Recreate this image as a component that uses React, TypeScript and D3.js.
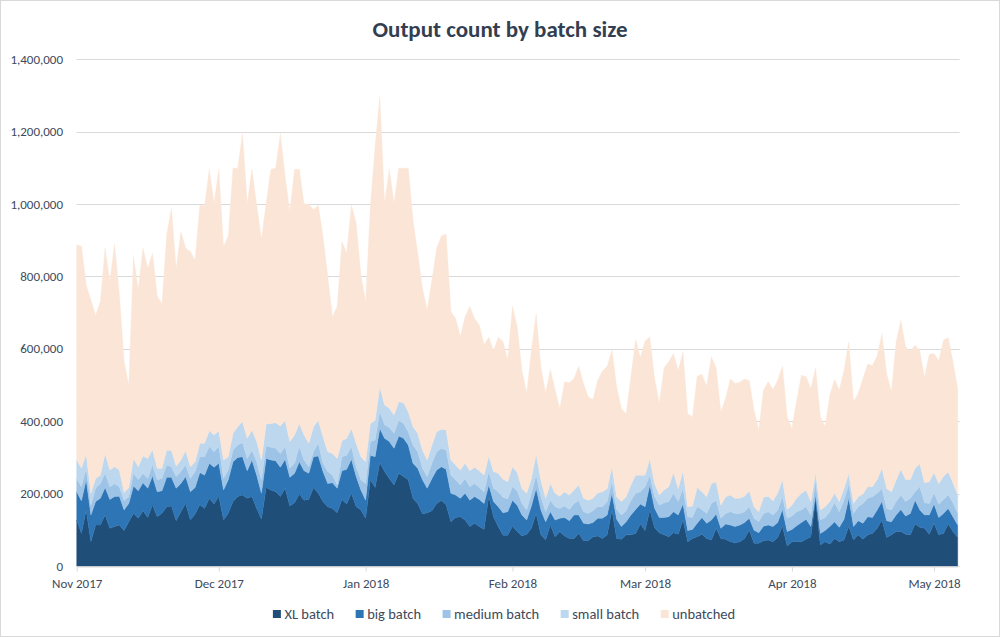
import React, { useRef, useEffect } from 'react';
import * as d3 from 'd3';

// daily values, in thousands of outputs, from 1 Nov 2017
const startDate = new Date(2017, 10, 1);

const xlBatch = [
  127, 90, 155, 67, 113, 113, 141, 104, 109, 113, 98, 122, 146, 132, 153, 134, 169, 136, 146, 164,
  166, 125, 150, 173, 127, 144, 169, 159, 187, 171, 193, 127, 146, 178, 192, 196, 187, 192, 159, 129,
  217, 210, 205, 192, 215, 166, 175, 199, 182, 184, 217, 201, 178, 164, 159, 147, 184, 171, 201, 164,
  155, 132, 238, 217, 286, 261, 242, 224, 256, 247, 238, 187, 173, 144, 147, 153, 173, 181, 169, 122,
  134, 136, 127, 109, 118, 109, 101, 192, 136, 109, 85, 85, 110, 95, 83, 88, 104, 145, 86, 72,
  113, 81, 95, 83, 76, 76, 90, 70, 70, 81, 83, 76, 86, 155, 76, 74, 86, 86, 90, 116,
  98, 155, 106, 92, 86, 81, 92, 88, 127, 67, 76, 81, 88, 76, 72, 104, 76, 74, 67, 64,
  67, 76, 99, 63, 63, 70, 72, 67, 79, 110, 55, 67, 68, 67, 74, 81, 185, 58, 67, 61,
  76, 67, 72, 109, 72, 86, 74, 86, 90, 104, 127, 79, 86, 95, 95, 88, 86, 116, 107, 104,
  88, 118, 86, 90, 116, 95, 79,
];
const bigBatch = [
  78, 90, 83, 74, 65, 74, 76, 80, 83, 80, 57, 51, 75, 76, 77, 81, 80, 69, 62, 81,
  79, 90, 78, 74, 78, 73, 89, 92, 97, 102, 91, 83, 92, 110, 108, 106, 76, 101, 92, 72,
  80, 83, 86, 81, 80, 79, 81, 89, 81, 72, 85, 103, 83, 64, 71, 68, 79, 96, 94, 83,
  55, 50, 68, 85, 94, 92, 102, 101, 103, 106, 96, 97, 97, 94, 68, 89, 92, 93, 98, 79,
  62, 51, 74, 73, 74, 75, 72, 32, 42, 55, 62, 65, 72, 73, 58, 39, 62, 69, 69, 50,
  37, 46, 37, 51, 49, 65, 51, 48, 46, 39, 49, 56, 55, 46, 53, 35, 36, 55, 66, 55,
  66, 69, 54, 42, 48, 55, 58, 53, 44, 31, 25, 37, 46, 42, 55, 40, 28, 42, 46, 45,
  46, 44, 33, 36, 29, 40, 41, 42, 41, 46, 40, 34, 43, 53, 55, 28, 11, 32, 31, 48,
  46, 40, 57, 78, 37, 39, 44, 50, 44, 51, 51, 46, 36, 46, 61, 50, 59, 66, 48, 37,
  53, 53, 48, 55, 43, 41, 34,
];
const mediumBatch = [
  37, 39, 32, 27, 37, 41, 39, 35, 35, 26, 25, 19, 35, 30, 26, 27, 30, 33, 34, 34,
  29, 32, 33, 32, 37, 44, 44, 51, 46, 43, 46, 32, 27, 32, 34, 39, 34, 27, 37, 37,
  35, 35, 34, 38, 35, 25, 28, 42, 30, 18, 14, 35, 23, 33, 21, 9, 39, 39, 35, 27,
  28, 46, 38, 46, 46, 37, 39, 42, 43, 41, 37, 50, 46, 32, 32, 42, 51, 51, 53, 50,
  42, 37, 41, 37, 36, 33, 32, 37, 37, 41, 43, 35, 37, 40, 32, 28, 35, 37, 36, 28,
  32, 37, 27, 32, 31, 32, 39, 32, 29, 33, 32, 32, 37, 32, 27, 32, 31, 39, 45, 34,
  55, 27, 32, 34, 41, 42, 51, 37, 43, 38, 33, 46, 22, 27, 46, 38, 28, 29, 37, 36,
  32, 30, 32, 33, 30, 35, 37, 32, 35, 35, 37, 37, 39, 35, 35, 32, 37, 37, 36, 41,
  53, 43, 53, 39, 36, 39, 55, 51, 57, 46, 36, 34, 33, 37, 40, 40, 42, 23, 64, 34,
  32, 30, 37, 39, 37, 39, 32,
];
const smallBatch = [
  51, 51, 39, 33, 27, 23, 55, 46, 47, 46, 23, 25, 41, 36, 48, 55, 43, 32, 28, 41,
  45, 29, 32, 40, 32, 27, 37, 37, 44, 46, 44, 51, 37, 47, 51, 58, 56, 56, 56, 55,
  60, 66, 71, 76, 72, 74, 78, 64, 69, 65, 69, 63, 73, 55, 60, 73, 44, 47, 50, 65,
  64, 60, 50, 54, 70, 55, 53, 50, 52, 57, 55, 51, 51, 50, 46, 50, 55, 53, 56, 42,
  41, 41, 42, 44, 45, 46, 46, 43, 46, 51, 50, 48, 55, 50, 41, 46, 41, 58, 46, 37,
  46, 37, 34, 39, 40, 37, 44, 37, 37, 34, 38, 41, 36, 41, 35, 37, 38, 44, 50, 46,
  32, 46, 36, 28, 35, 41, 57, 36, 49, 28, 32, 53, 49, 46, 55, 51, 36, 46, 46, 42,
  42, 43, 44, 32, 28, 45, 43, 39, 47, 48, 24, 30, 38, 46, 46, 37, 25, 28, 30, 28,
  26, 28, 32, 30, 28, 27, 26, 32, 28, 38, 56, 55, 50, 59, 71, 61, 52, 65, 63, 55,
  60, 57, 57, 64, 64, 55, 51,
];
const unbatched = [
  594, 614, 467, 534, 451, 479, 567, 521, 615, 488, 362, 283, 558, 489, 574, 525, 542, 476, 454, 595,
  669, 544, 631, 559, 595, 557, 658, 656, 722, 640, 722, 589, 610, 732, 714, 796, 649, 720, 653, 610,
  610, 702, 703, 808, 674, 635, 734, 702, 638, 661, 599, 595, 553, 484, 378, 420, 550, 511, 617, 608,
  503, 442, 599, 757, 801, 557, 660, 585, 645, 648, 673, 571, 497, 447, 414, 456, 507, 534, 541, 410,
  405, 369, 405, 454, 411, 403, 360, 328, 334, 376, 380, 336, 444, 403, 327, 276, 354, 388, 313, 290,
  315, 285, 242, 304, 310, 308, 328, 317, 285, 273, 311, 334, 338, 322, 304, 257, 229, 299, 375, 325,
  371, 336, 290, 253, 338, 345, 329, 327, 329, 257, 246, 307, 325, 306, 350, 315, 258, 272, 321, 317,
  321, 324, 304, 267, 225, 296, 316, 308, 311, 313, 256, 212, 270, 326, 313, 312, 290, 257, 221, 294,
  314, 308, 327, 363, 281, 286, 319, 339, 335, 341, 372, 318, 276, 382, 412, 366, 355, 340, 312, 291,
  352, 329, 339, 376, 371, 334, 294,
];

const seriesNames = ['XL batch', 'big batch', 'medium batch', 'small batch', 'unbatched'];
const seriesColors = ['#1f4e79', '#2e75b6', '#9dc3e6', '#bdd7ee', '#fbe5d6'];
const yTicks = [0, 200000, 400000, 600000, 800000, 1000000, 1200000, 1400000];

const FONT = "Carlito, Lato, 'Open Sans', sans-serif";
const TEXT_COLOR = '#3d4a5c';

function App() {
  const svgRef = useRef(null);

  useEffect(() => {
    document.body.style.margin = '0';
    const w = 1000;
    const h = 637;
    const svg = d3.select(svgRef.current).attr('width', w).attr('height', h);
    svg.selectAll('*').remove();

    const allSeries = [xlBatch, bigBatch, mediumBatch, smallBatch, unbatched];
    const rows = xlBatch.map((_, i) => {
      const row: any = { date: d3.timeDay.offset(startDate, i) };
      seriesNames.forEach((k, s) => (row[k] = allSeries[s][i] * 1000));
      return row;
    });

    const left = 76.7;
    const right = 957.7;
    const bottom = 566;
    const top = 59.3;

    const xScale = d3
      .scaleTime()
      .domain([rows[0].date, rows[rows.length - 1].date])
      .range([left, right]);
    const yScale = d3.scaleLinear().domain([0, 1400000]).range([bottom, top]);

    // chart border
    svg
      .append('rect')
      .attr('x', 0.5)
      .attr('y', 0.5)
      .attr('width', w - 1)
      .attr('height', h - 1)
      .attr('fill', '#fff')
      .attr('stroke', '#d9d9d9');

    // title
    svg
      .append('text')
      .attr('x', 500)
      .attr('y', 37)
      .attr('text-anchor', 'middle')
      .style('font-family', FONT)
      .style('font-weight', 'bold')
      .style('font-size', '23px')
      .attr('fill', '#333f50')
      .text('Output count by batch size');

    // gridlines + y labels
    const grid = svg.append('g');
    grid
      .selectAll('line')
      .data(yTicks)
      .join('line')
      .attr('x1', left)
      .attr('x2', right + 2)
      .attr('y1', (d) => Math.round(yScale(d)) + 0.5)
      .attr('y2', (d) => Math.round(yScale(d)) + 0.5)
      .attr('stroke', '#d9d9d9');
    grid
      .selectAll('text')
      .data(yTicks)
      .join('text')
      .attr('x', 63)
      .attr('y', (d) => yScale(d))
      .attr('dy', '0.35em')
      .attr('text-anchor', 'end')
      .style('font-family', FONT)
      .style('font-size', '13px')
      .attr('fill', TEXT_COLOR)
      .text((d) => d3.format(',')(d));

    // stacked areas
    const stack = d3.stack().keys(seriesNames);
    const layers = stack(rows);
    const area = d3
      .area()
      .x((d: any) => xScale(d.data.date))
      .y0((d: any) => yScale(d[0]))
      .y1((d: any) => yScale(d[1]));
    svg
      .append('g')
      .selectAll('path')
      .data(layers)
      .join('path')
      .attr('d', (d: any) => area(d))
      .attr('fill', (d, i) => seriesColors[i])
      .attr('stroke', (d, i) => seriesColors[i])
      .attr('stroke-width', 0.4);

    // x axis
    const xAxis = d3
      .axisBottom(xScale)
      .ticks(d3.timeMonth.every(1))
      .tickFormat((d: any) => d3.timeFormat('%b %Y')(d))
      .tickSizeInner(5)
      .tickSizeOuter(0)
      .tickPadding(7);
    const gx = svg.append('g').attr('transform', `translate(0, ${bottom + 0.5})`).call(xAxis);
    gx.select('.domain').attr('stroke', '#d9d9d9');
    gx.selectAll('.tick line').attr('stroke', '#d9d9d9');
    gx.selectAll('.tick text')
      .style('font-family', FONT)
      .style('font-size', '13px')
      .attr('fill', TEXT_COLOR);

    // legend
    const legend = svg.append('g');
    let cx = 0;
    seriesNames.forEach((name, i) => {
      const item = legend.append('g').attr('transform', `translate(${cx}, 0)`);
      item
        .append('rect')
        .attr('x', 0)
        .attr('y', -8.5)
        .attr('width', 8)
        .attr('height', 8)
        .attr('fill', seriesColors[i]);
      const t = item
        .append('text')
        .attr('x', 11.5)
        .attr('y', 0)
        .style('font-family', FONT)
        .style('font-size', '14.5px')
        .attr('fill', TEXT_COLOR)
        .text(name);
      const tw = (t.node() as any).getComputedTextLength();
      cx += 11.5 + tw + 21.5;
    });
    const legendWidth = cx - 21.5;
    legend.attr('transform', `translate(${504 - legendWidth / 2}, 618.5)`);
  }, []);

  return (
    <div>
      <svg ref={svgRef}></svg>
    </div>
  );
}

export default App;
